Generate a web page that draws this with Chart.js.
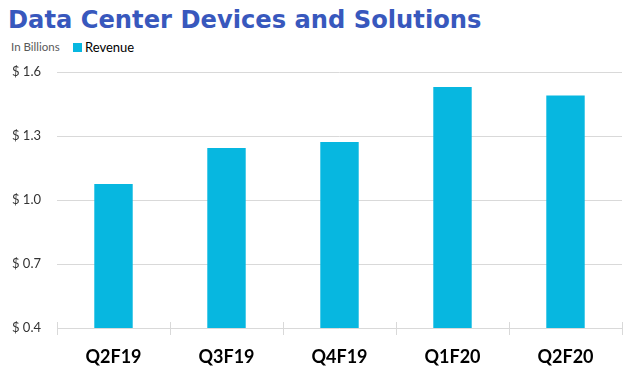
<!DOCTYPE html>
<html>
<head>
<meta charset="utf-8">
<script src="https://cdn.jsdelivr.net/npm/chart.js@4"></script>
<style>
  html, body { margin: 0; padding: 0; background: #fff; }
  body { width: 632px; height: 374px; position: relative; overflow: hidden; }
  #title { position: absolute; left: 8px; top: 8px; font: bold 24.2px/24.2px 'DejaVu Sans', sans-serif; color: #3858bd; white-space: nowrap; }
  #unit { position: absolute; left: 11px; top: 41px; font: 11.5px/11.5px Lato, sans-serif; color: #595959; white-space: nowrap; }
  #legbox { position: absolute; left: 73px; top: 43px; width: 9px; height: 9px; }
  #legtext { position: absolute; left: 85px; top: 40.5px; font: 13px/13px Lato, sans-serif; color: #000; white-space: nowrap; }
  canvas { position: absolute; left: 0; top: 0; }
</style>
</head>
<body>
<div id="title">Data Center Devices and Solutions</div>
<div id="unit">In Billions</div>
<div id="legbox"></div>
<div id="legtext">Revenue</div>
<canvas id="c" width="632" height="374"></canvas>
<script>
const categories = ['Q2F19', 'Q3F19', 'Q4F19', 'Q1F20', 'Q2F20'];
const revenue = [1.075, 1.244, 1.272, 1.53, 1.49];
const seriesName = 'Revenue';
const yTicks = [0.4, 0.7, 1.0, 1.3, 1.6];
const barColor = '#07b7e0';

document.getElementById('legbox').style.background = barColor;
document.getElementById('legtext').textContent = seriesName;

const boundaryTicks = {
  id: 'boundaryTicks',
  afterDatasetsDraw(chart) {
    const xs = chart.scales.x, area = chart.chartArea, ctx = chart.ctx;
    ctx.save();
    ctx.strokeStyle = '#d9d9d9';
    ctx.lineWidth = 1;
    for (let i = 0; i <= categories.length; i++) {
      const x = Math.round(xs.getPixelForValue(i - 0.5)) + 0.5;
      ctx.beginPath();
      ctx.moveTo(x, area.bottom - 6);
      ctx.lineTo(x, area.bottom + 7);
      ctx.stroke();
    }
    ctx.restore();
  }
};

new Chart(document.getElementById('c'), {
  type: 'bar',
  data: {
    labels: categories,
    datasets: [{
      label: seriesName,
      data: revenue,
      backgroundColor: barColor,
      borderWidth: 0,
      categoryPercentage: 1,
      barPercentage: 0.34
    }]
  },
  options: {
    responsive: false,
    animation: false,
    devicePixelRatio: 1,
    layout: { padding: { left: 0, right: 10, top: 72, bottom: 0 } },
    plugins: { legend: { display: false }, tooltip: { enabled: false }, title: { display: false } },
    scales: {
      x: {
        offset: true,
        grid: { display: false, drawTicks: false },
        border: { display: false },
        ticks: { font: { family: 'Lato', size: 18, weight: 'bold' }, color: '#000', padding: 18 },
        afterFit(s) { s.height = 46; }
      },
      y: {
        min: 0.4, max: 1.6,
        afterBuildTicks(s) { s.ticks = yTicks.map(v => ({ value: v })); },
        grid: { color: '#d9d9d9', drawTicks: false, lineWidth: 1 },
        border: { display: false },
        ticks: {
          font: { family: 'Lato', size: 13 }, color: '#333', padding: 16,
          callback: v => '$ ' + Number(v).toFixed(1)
        },
        afterFit(s) { s.width = 57; }
      }
    }
  },
  plugins: [boundaryTicks]
});
</script>
</body>
</html>
